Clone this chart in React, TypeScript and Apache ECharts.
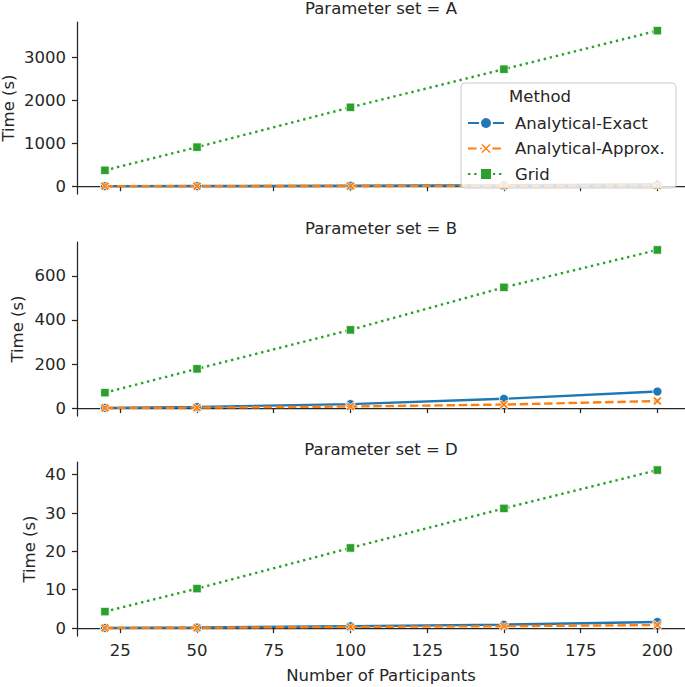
import React, { useEffect, useRef } from "react";
import * as echarts from "echarts";

const participants = [20, 50, 100, 150, 200];
const panelNames = ["A", "B", "D"];
const methods = ["Analytical-Exact", "Analytical-Approx.", "Grid"];

const exactA = [0.5, 2, 8, 20, 40];
const approxA = [0.2, 1, 4, 9, 16];
const gridA = [370, 910, 1840, 2730, 3630];

const exactB = [1, 5, 18, 42, 75];
const approxB = [0.5, 2, 7, 16, 32];
const gridB = [70, 178, 355, 548, 718];

const exactD = [0.05, 0.15, 0.5, 0.9, 1.6];
const approxD = [0.03, 0.1, 0.3, 0.5, 0.8];
const gridD = [4.3, 10.3, 20.9, 31.2, 41.2];

const xTicks = [25, 50, 75, 100, 125, 150, 175, 200];
const yTicksA = [0, 1000, 2000, 3000];
const yTicksB = [0, 200, 400, 600];
const yTicksD = [0, 10, 20, 30, 40];

const FONT = "DejaVu Sans";
const FS = 16.5;
const TXT = "#262626";
const COLORS = ["#1f77b4", "#ff7f0e", "#2ca02c"];
const XPATH =
  "path://M2,0 L5,3 L8,0 L10,2 L7,5 L10,8 L8,10 L5,7 L2,10 L0,8 L3,5 L0,2 Z";

export default function App() {
  const ref = useRef<HTMLDivElement>(null);
  useEffect(() => {
    const chart = echarts.init(ref.current!, null, { renderer: "svg" });
    const data = [
      [exactA, approxA, gridA],
      [exactB, approxB, gridB],
      [exactD, approxD, gridD],
    ];
    const yTicks = [yTicksA, yTicksB, yTicksD];
    const yRange = [
      [-183, 3832],
      [-36, 754],
      [-2.06, 43.3],
    ];
    const grids = [
      { top: 22, height: 172 },
      { top: 242, height: 174 },
      { top: 462, height: 174 },
    ];
    const nameX = [8.5, 17, 29];
    const titleY = [8.5, 228, 449];

    const series: any[] = [];
    data.forEach((panel, pi) => {
      panel.forEach((vals, mi) => {
        const lineType =
          mi === 0 ? "solid" : mi === 1 ? [8.5, 3.7] : [2.4, 3.8];
        series.push({
          name: methods[mi],
          type: "line",
          xAxisIndex: pi,
          yAxisIndex: pi,
          data: participants.map((p, i) => [p, vals[i]]),
          symbol: mi === 0 ? "circle" : mi === 1 ? XPATH : "rect",
          symbolSize: mi === 0 ? 9 : mi === 1 ? 9 : 8.5,
          showSymbol: true,
          z: 2 + mi,
          lineStyle: { color: COLORS[mi], width: 2.4, type: lineType, cap: "butt" },
          itemStyle: { color: COLORS[mi], borderColor: "#ffffff", borderWidth: 0.8 },
          emphasis: { disabled: true },
        });
      });
    });

    const option: any = {
      animation: false,
      textStyle: { fontFamily: FONT },
      grid: grids.map((g) => ({ left: 77, width: 608, top: g.top, height: g.height })),
      xAxis: grids.map((_, pi) => ({
        type: "value",
        gridIndex: pi,
        min: 10.9,
        max: 209,
        axisLine: { show: true, lineStyle: { color: TXT, width: 1.25 } },
        axisTick: {
          show: true,
          length: 5,
          lineStyle: { color: TXT, width: 1.25 },
          customValues: xTicks,
        },
        axisLabel: {
          show: pi === 2,
          customValues: xTicks,
          color: TXT,
          fontSize: FS,
          fontFamily: FONT,
          margin: 6,
          formatter: (v: number) => String(v),
        },
        splitLine: { show: false },
        name: pi === 2 ? "Number of Participants" : "",
        nameLocation: "middle",
        nameGap: 31,
        nameMoveOverlap: false,
        nameTextStyle: { color: TXT, fontSize: FS, fontFamily: FONT },
      })),
      yAxis: grids.map((_, pi) => ({
        type: "value",
        gridIndex: pi,
        min: yRange[pi][0],
        max: yRange[pi][1],
        axisLine: { show: true, lineStyle: { color: TXT, width: 1.25 } },
        axisTick: {
          show: true,
          length: 5,
          lineStyle: { color: TXT, width: 1.25 },
          customValues: yTicks[pi],
        },
        axisLabel: {
          customValues: yTicks[pi],
          color: TXT,
          fontSize: FS,
          fontFamily: FONT,
          margin: 11,
          formatter: (v: number) => String(v),
        },
        splitLine: { show: false },
      })),
      legend: {
        data: methods,
        orient: "vertical",
        left: 467,
        top: 114.5,
        padding: 0,
        itemWidth: 36,
        itemHeight: 15,
        itemGap: 8.5,
        z: 12,
        textStyle: { color: TXT, fontSize: FS, fontFamily: FONT, lineHeight: 15, padding: [0, 0, 0, 6] },
        selectedMode: false,
      },
      graphic: [
        ...panelNames.map((n, i) => ({
          type: "text",
          x: 381,
          y: titleY[i],
          style: {
            text: "Parameter set = " + n,
            fill: TXT,
            font: `${FS}px "${FONT}"`,
            align: "center",
            verticalAlign: "middle",
          },
        })),
        ...grids.map((g, i) => ({
          type: "text",
          x: nameX[i],
          y: g.top + g.height / 2,
          rotation: Math.PI / 2,
          style: {
            text: "Time (s)",
            fill: TXT,
            font: `${FS}px "${FONT}"`,
            align: "center",
            verticalAlign: "middle",
          },
        })),
        {
          type: "rect",
          z: 10,
          shape: { x: 461, y: 83, width: 215, height: 105, r: 4 },
          style: { fill: "rgba(255,255,255,0.8)", stroke: "#cccccc", lineWidth: 1 },
        },
        {
          type: "text",
          z: 11,
          x: 540,
          y: 96,
          style: {
            text: "Method",
            fill: TXT,
            font: `${FS}px "${FONT}"`,
            align: "center",
            verticalAlign: "middle",
          },
        },
      ],
      series,
    };
    chart.setOption(option);
    return () => chart.dispose();
  }, []);
  return (
    <div
      ref={ref}
      style={{ position: "absolute", left: 0, top: 0, width: 685, height: 687 }}
    />
  );
}
